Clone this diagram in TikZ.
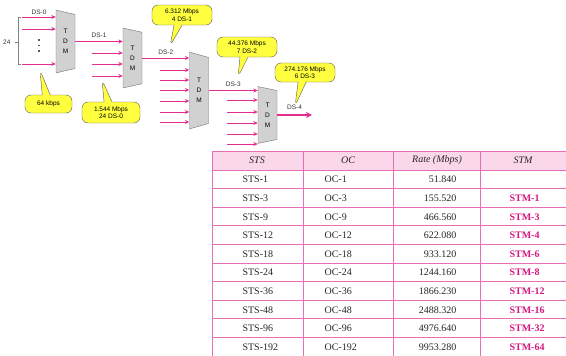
\documentclass[tikz,border=0pt]{standalone}
\usepackage{fontspec}
\setmainfont{Liberation Serif}
\setsansfont{Liberation Sans}
\usepackage{xcolor}
\usepackage{tikz}
\usetikzlibrary{arrows.meta,positioning,shapes.geometric,shapes.callouts}
\definecolor{sigpink}{RGB}{228,45,145}
\definecolor{tabline}{RGB}{232,110,182}
\definecolor{tabhead}{RGB}{250,216,234}
\definecolor{stmtext}{RGB}{214,22,128}
\definecolor{callyel}{RGB}{255,255,64}

\begin{document}
\begin{tikzpicture}[x=1pt, y=-1pt,
  tdm/.style={trapezium, trapezium angle=70, shape border rotate=270,
              trapezium stretches=true, draw=black!55, fill=black!18,
              inner sep=0pt, minimum height=19pt, align=center,
              font=\sffamily\fontsize{6.5}{10}\selectfont},
  bub/.style={rectangle callout, rounded corners=6pt, draw=black!65,
              fill=callyel, callout pointer width=8pt, align=center,
              inner sep=1pt, font=\sffamily\fontsize{6.5}{7.5}\selectfont},
  sig/.style={-{Stealth[length=4.5pt,width=4pt]}, draw=sigpink, line width=0.9pt},
  lbl/.style={font=\sffamily\fontsize{6.5}{7.5}\selectfont, text=black!80},
  tabrule/.style={draw=tabline, line width=0.8pt},
  cell/.style={font=\rmfamily\fontsize{10}{12}\selectfont, text=black!85},
  head/.style={font=\rmfamily\itshape\fontsize{10}{12}\selectfont, text=black!85}]
\useasboundingbox (0,0) rectangle (566,356);
% --- multiplexers ---
\node[tdm, minimum width=63pt] (t1) at (65.5,41.5) {T\\D\\M};
\node[tdm, minimum width=60pt] (t2) at (132.5,58) {T\\D\\M};
\node[tdm, minimum width=77pt] (t3) at (199,90.5) {T\\D\\M};
\node[tdm, minimum width=57pt] (t4) at (267.5,115) {T\\D\\M};
% --- DS-0 inputs ---
\foreach \y [count=\i] in {17,29,64} {
  \coordinate (a\i) at (22,\y);
  \draw[sig] (a\i) -- (a\i -| t1.west);
}
\node[lbl] (ds0) at (39,12) {DS-0};
\foreach \y in {39,44.5,50} {
  \fill[black!65] (38.2,\y) rectangle (39.8,\y+1.6);
}
\draw[black!50, line width=0.5pt] (21,17) -- (18,17) -- (18,64) -- (21,64);
\draw[black!50, line width=0.5pt] (18,42) -- (14.5,42);
\node[lbl, anchor=east] (n24) at (14,42) {24};
% --- links between stages ---
\draw[sig] (t1.east) -- node[lbl, above] {DS-1} (t1.east -| t2.west);
\foreach \y [count=\i] in {53,64,76} {
  \coordinate (b\i) at (92,\y);
  \draw[sig] (b\i) -- (b\i -| t2.west);
}
\draw[sig] (t2.east) -- node[lbl, above] {DS-2} (t2.east -| t3.west);
\foreach \y [count=\i] in {70,80,90,101,112,122} {
  \coordinate (c\i) at (160,\y);
  \draw[sig] (c\i) -- (c\i -| t3.west);
}
\draw[sig] (t3.east) -- node[lbl, above] {DS-3} (t3.east -| t4.west);
\foreach \y [count=\i] in {100,112,123,134,144} {
  \coordinate (d\i) at (227,\y);
  \draw[sig] (d\i) -- (d\i -| t4.west);
}
\coordinate (out) at (312,0);
\draw[sig, line width=1.8pt, -{Stealth[length=6pt,width=6pt]}]
  (t4.east) -- node[lbl, above=1pt] {DS-4} (t4.east -| out);
% --- rate callouts ---
\coordinate (p1) at (40,70);
\coordinate (p2) at (102,80);
\coordinate (p3) at (170,46);
\coordinate (p4) at (238,77);
\coordinate (p5) at (295,106);
\node[bub, callout absolute pointer={(p1)}, minimum width=47pt, minimum height=18pt]
  (r1) at (48.5,104) {64 kbps};
\node[bub, callout absolute pointer={(p2)}, minimum width=58pt, minimum height=21pt]
  (r2) at (111,112.5) {1.544 Mbps\\24 DS-0};
\node[bub, callout absolute pointer={(p3)}, minimum width=60pt, minimum height=20pt]
  (r3) at (182,15) {6.312 Mbps\\4 DS-1};
\node[bub, callout absolute pointer={(p4)}, minimum width=60pt, minimum height=20pt]
  (r4) at (247,47) {44.376 Mbps\\7 DS-2};
\node[bub, callout absolute pointer={(p5)}, minimum width=60pt, minimum height=19pt]
  (r5) at (305,72.5) {274.176 Mbps\\6 DS-3};
% --- SONET / SDH rates ---
\fill[tabhead] (212,151) rectangle (566,170);
\draw[tabrule] (212,151) -- (566,151);
\foreach \k in {0,...,10} {
  \draw[tabrule] (212,170+18.6*\k) -- (566,170+18.6*\k);
}
\foreach \xx in {212,303,393,480} {
  \draw[tabrule] (\xx,151) -- (\xx,356);
}
\node[head] (hsts) at (257,160.5) {STS};
\node[head] (hoc) at (348,160.5) {OC};
\node[head] (hrate) at (437,160.5) {Rate (Mbps)};
\node[head] (hstm) at (523,160.5) {STM};
\foreach \s/\o/\r/\m [count=\i] in {STS-1/OC-1/51.840/{},
    STS-3/OC-3/155.520/STM-1, STS-9/OC-9/466.560/STM-3,
    STS-12/OC-12/622.080/STM-4, STS-18/OC-18/933.120/STM-6,
    STS-24/OC-24/1244.160/STM-8, STS-36/OC-36/1866.230/STM-12,
    STS-48/OC-48/2488.320/STM-16, STS-96/OC-96/4976.640/STM-32,
    STS-192/OC-192/9953.280/STM-64} {
  \pgfmathsetmacro\ry{179.3+18.6*(\i-1)+3.5}
  \node[cell, anchor=base west] (sts\i) at (239,\ry) {\s};
  \node[cell, anchor=base west] (oc\i) at (321,\ry) {\o};
  \node[cell, anchor=base east] (rate\i) at (460,\ry) {\r};
  \node[cell, anchor=base west, text=stmtext,
        font=\rmfamily\bfseries\fontsize{10}{12}\selectfont] (stm\i) at (506,\ry) {\m};
}
\end{tikzpicture}
\end{document}
